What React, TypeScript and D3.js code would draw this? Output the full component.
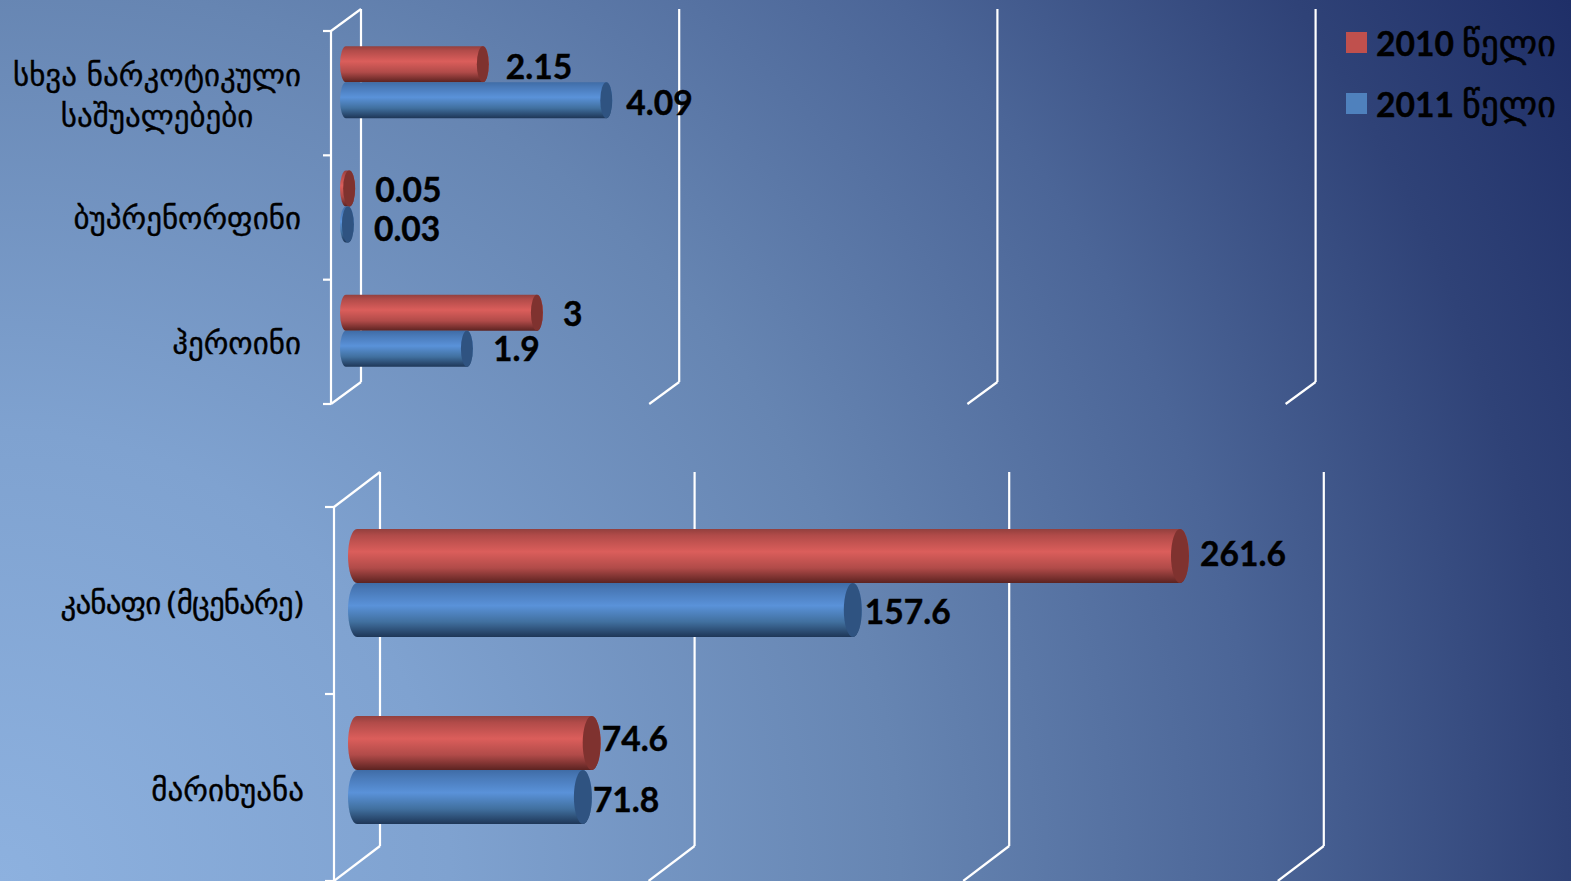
import React from 'react';
import * as d3 from 'd3';

const WIDTH = 1571;
const HEIGHT = 881;

const seriesYears = ['2010', '2011'];
const seriesWord = 'წელი';

const topCategories = ['სხვა ნარკოტიკული საშუალებები', 'ბუპრენორფინი', 'ჰეროინი'];
const topValues2010 = [2.15, 0.05, 3];
const topValues2011 = [4.09, 0.03, 1.9];
const topTicks = [0, 5, 10, 15];

const bottomCategories = ['კანაფი (მცენარე)', 'მარიხუანა'];
const bottomValues2010 = [261.6, 74.6];
const bottomValues2011 = [157.6, 71.8];
const bottomTicks = [0, 100, 200, 300];

// hand nudges for data labels, [dx, dy] for 2010 then 2011
const topNudges = [[17, 3], [14, 3], [20, 1.5], [20, 5], [20, 1], [20, 0.5]];
const bottomNudges = [[11, -2], [3, 2], [1, -4], [1, 3]];

const fills = ['url(#barRed)', 'url(#barBlue)'];
const caps = ['#7f322f', '#2f5381'];
const legendColors = ['#c0504d', '#4f81bd'];

type PanelProps = {
  id: string;
  categories: string[];
  values: number[][];
  ticks: number[];
  nudges: number[][];
  frontX: number;
  backX: number;
  frontTop: number;
  backTop: number;
  wallHeight: number;
  tickLeft: number;
  pxPerTickGap: number;
  barHeight: number;
  rx: number;
  labelRight: number;
  labelOffset: number;
};

function Panel(p: PanelProps) {
  const midX = (p.frontX + p.backX) / 2;
  const midTop = (p.frontTop + p.backTop) / 2;
  const maxTick = p.ticks[p.ticks.length - 1];
  const x = d3
    .scaleLinear()
    .domain([0, maxTick])
    .range([midX, midX + p.pxPerTickGap * (p.ticks.length - 1)]);
  const y = d3
    .scaleBand<string>()
    .domain(p.categories)
    .range([midTop, midTop + p.wallHeight]);
  const step = y.step();
  const inner = d3
    .scaleBand<string>()
    .domain(seriesYears)
    .range([step / 2 - p.barHeight, step / 2 + p.barHeight]);
  const depth = p.backX - p.frontX;
  const rise = p.frontTop - p.backTop;
  const edges = p.categories.map((_, i) => p.frontTop + i * step).concat(p.frontTop + p.wallHeight);
  const floorY = p.frontTop + p.wallHeight;

  const cylinder = (value: number, top: number) => {
    const x0 = x(0);
    const x1 = x(value);
    const bottom = top + p.barHeight;
    const ry = p.barHeight / 2;
    const body = `M${x0},${top}A${p.rx},${ry} 0 0 0 ${x0},${bottom}L${x1},${bottom}A${p.rx},${ry} 0 0 0 ${x1},${top}Z`;
    return { body, cx: x1, cy: top + ry, ry };
  };

  return (
    <g id={p.id}>
      {/* walls and gridlines */}
      <g stroke="#fff" strokeWidth={2.2} fill="none">
        <line x1={p.frontX} x2={p.frontX} y1={p.frontTop} y2={floorY} />
        <line x1={p.frontX} x2={p.backX} y1={p.frontTop} y2={p.backTop} />
        {edges.map(e => (
          <line key={e} x1={p.tickLeft} x2={p.frontX} y1={e} y2={e} />
        ))}
        {p.ticks.map(t => {
          const gx = x(t) + depth / 2;
          return (
            <g key={t}>
              <line x1={gx} x2={gx} y1={p.backTop} y2={p.backTop + p.wallHeight} />
              <line x1={gx - depth} x2={gx} y1={floorY} y2={floorY - rise} />
            </g>
          );
        })}
      </g>

      {p.categories.map((c, i) => {
        const top = y(c) as number;
        return (
          <g key={c}>
            {seriesYears.map((s, j) => {
              const v = p.values[j][i];
              const c3d = cylinder(v, top + (inner(s) as number));
              return (
                <g key={s}>
                  <path d={c3d.body} fill={fills[j]} />
                  <ellipse cx={c3d.cx} cy={c3d.cy} rx={p.rx} ry={c3d.ry} fill={caps[j]} />
                </g>
              );
            })}
          </g>
        );
      })}

      {p.categories.map((c, i) => {
        const top = y(c) as number;
        return seriesYears.map((s, j) => {
          const v = p.values[j][i];
          const nudge = p.nudges[i * 2 + j];
          const cy = top + (inner(s) as number) + p.barHeight / 2;
          return (
            <text
              key={s}
              x={x(v) + p.rx + nudge[0]}
              y={cy + nudge[1]}
              dy="0.35em"
              fontFamily="Lato, 'Open Sans', sans-serif"
              fontWeight={700}
              fontSize={33.6}
              stroke="#000"
              strokeWidth={0.4}
              fill="#000"
            >
              {v}
            </text>
          );
        });
      })}

      {p.categories.map((c, i) => {
        const cy = (y(c) as number) + step / 2 + p.labelOffset;
        const lines = c === 'სხვა ნარკოტიკული საშუალებები' ? ['სხვა ნარკოტიკული', 'საშუალებები'] : [c];
        const common = {
          fontFamily: "'DejaVu Sans', sans-serif",
          fontSize: 31,
          fill: '#000',
          stroke: '#000',
          strokeWidth: 0.35
        };
        if (lines.length === 2) {
          return (
            <g key={c} {...common} textAnchor="middle">
              <text x={157} y={cy - 19} dy="0.35em">{lines[0]}</text>
              <text x={157} y={cy + 22} dy="0.35em">{lines[1]}</text>
            </g>
          );
        }
        // the parenthesised label runs wide in DejaVu, tighten it a bit
        const tighten = c.includes('(') ? { wordSpacing: -4, letterSpacing: -0.85 } : {};
        return (
          <text key={c} {...common} {...tighten} x={p.labelRight} y={cy} dy="0.35em" textAnchor="end">
            {c}
          </text>
        );
      })}
    </g>
  );
}

export default function App() {
  return (
    <svg
      width={WIDTH}
      height={HEIGHT}
      viewBox={`0 0 ${WIDTH} ${HEIGHT}`}
      style={{ position: 'absolute', left: 0, top: 0, display: 'block' }}
    >
      <defs>
        <radialGradient id="bg" gradientUnits="userSpaceOnUse" cx={0} cy={881} r={1800}>
          <stop offset="0" stopColor="#8db1df" />
          <stop offset="0.25" stopColor="#7fa2d0" />
          <stop offset="0.5" stopColor="#6685b2" />
          <stop offset="0.7" stopColor="#4b6597" />
          <stop offset="0.87" stopColor="#2f4277" />
          <stop offset="1" stopColor="#1f2f68" />
        </radialGradient>
        <linearGradient id="barRed" x1={0} y1={0} x2={0} y2={1}>
          <stop offset="0" stopColor="#93403e" />
          <stop offset="0.12" stopColor="#b14b49" />
          <stop offset="0.42" stopColor="#db5e5b" />
          <stop offset="0.72" stopColor="#b14b49" />
          <stop offset="1" stopColor="#5c2321" />
        </linearGradient>
        <linearGradient id="barBlue" x1={0} y1={0} x2={0} y2={1}>
          <stop offset="0" stopColor="#3f6ca6" />
          <stop offset="0.12" stopColor="#4878b6" />
          <stop offset="0.42" stopColor="#5a92d9" />
          <stop offset="0.72" stopColor="#41709f" />
          <stop offset="1" stopColor="#1e3657" />
        </linearGradient>
      </defs>
      <rect width={WIDTH} height={HEIGHT} fill="url(#bg)" />

      <Panel
        id="top"
        categories={topCategories}
        values={[topValues2010, topValues2011]}
        ticks={topTicks}
        nudges={topNudges}
        frontX={331}
        backX={361}
        frontTop={31}
        backTop={9}
        wallHeight={373}
        tickLeft={323}
        pxPerTickGap={318.2}
        barHeight={36}
        rx={6}
        labelRight={301}
        labelOffset={12}
      />
      <Panel
        id="bottom"
        categories={bottomCategories}
        values={[bottomValues2010, bottomValues2011]}
        ticks={bottomTicks}
        nudges={bottomNudges}
        frontX={334}
        backX={380}
        frontTop={507}
        backTop={472}
        wallHeight={374}
        tickLeft={325}
        pxPerTickGap={314.6}
        barHeight={54}
        rx={9}
        labelRight={304}
        labelOffset={20}
      />

      {seriesYears.map((s, i) => (
        <g key={s}>
          <rect x={1346} y={32 + i * 61} width={21} height={21} fill={legendColors[i]} />
          <text x={1376} y={56 + i * 61} fill="#000">
            <tspan fontFamily="Lato, sans-serif" fontWeight={700} fontSize={33.6} stroke="#000" strokeWidth={0.4}>
              {s}
            </tspan>
            <tspan
              dx={8}
              fontFamily="'DejaVu Sans', sans-serif"
              fontSize={36}
              stroke="#000"
              strokeWidth={0.6}
            >
              {seriesWord}
            </tspan>
          </text>
        </g>
      ))}
    </svg>
  );
}
